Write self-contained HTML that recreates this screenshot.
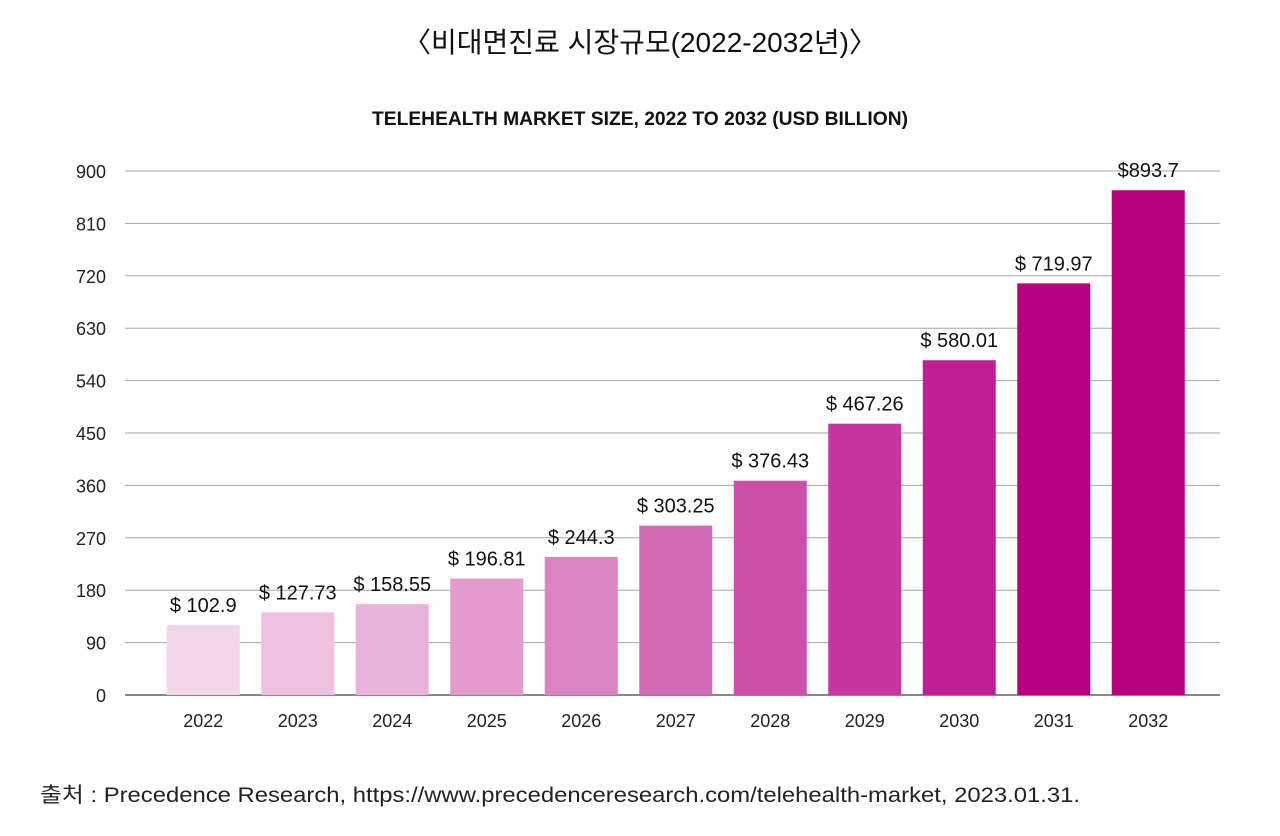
<!DOCTYPE html>
<html><head><meta charset="utf-8">
<style>
body{margin:0;background:#fff;width:1280px;height:836px;overflow:hidden;font-family:"Liberation Sans","Noto Sans CJK KR",sans-serif;}
svg{position:absolute;left:0;top:0}
</style></head>
<body>
<svg width="1280" height="836">
<text x="640" y="52" text-anchor="middle" font-size="28" fill="#111" font-family="Liberation Sans, Noto Sans CJK KR, sans-serif">〈비대면진료 시장규모(2022-2032년)〉</text>
<text x="640" y="125" text-anchor="middle" font-size="19" font-weight="bold" fill="#111" textLength="536" lengthAdjust="spacingAndGlyphs">TELEHEALTH MARKET SIZE, 2022 TO 2032 (USD BILLION)</text>
<g id="grid"></g><g id="bars"></g>
<text x="40" y="802" font-size="21" fill="#222" textLength="1040" lengthAdjust="spacingAndGlyphs" font-family="Liberation Sans, Noto Sans CJK KR, sans-serif">출처 : Precedence Research, https://www.precedenceresearch.com/telehealth-market, 2023.01.31.</text>
</svg>
<script>
const categories=["2022","2023","2024","2025","2026","2027","2028","2029","2030","2031","2032"];
const values=[120,142,156,200,237,291,368,466,575,707,867];
const valueLabels=["$ 102.9","$ 127.73","$ 158.55","$ 196.81","$ 244.3","$ 303.25","$ 376.43","$ 467.26","$ 580.01","$ 719.97","$893.7"];
const colors=["#f4d6ea","#efc0df","#e9b2d9","#e39bce","#dc83c2","#d46ab6","#cc4fa9","#c5369e","#bf1f92","#b9007f","#b7007c"];
const ticks=[0,90,180,270,360,450,540,630,720,810,900];
const NS="http://www.w3.org/2000/svg";
const y0=695,y1=171,vmax=900,left=125,right=1220,bandStart=156,band=94.5,bw=73;
const y=v=>y0-(v/vmax)*(y0-y1);
const xc=i=>bandStart+band*(i+0.5);
function mk(t,a,p){const e=document.createElementNS(NS,t);for(const k in a)e.setAttribute(k,a[k]);p.appendChild(e);return e;}
const grid=document.getElementById('grid'),bars=document.getElementById('bars');
ticks.forEach(t=>{
 const l=mk('line',{x1:left,x2:right,y1:y(t),y2:y(t),stroke:t===0?'#888':'#a6a6a6','stroke-width':t===0?2:1},grid);
 
 
 const tx=mk('text',{x:106,y:y(t)+7,'text-anchor':'end','font-size':18,fill:'#222'},grid);
 tx.textContent=t;
 
 
});
categories.forEach((c,i)=>{
 const r=mk('rect',{x:xc(i)-bw/2,y:y(values[i]),width:bw,height:y0-y(values[i]),fill:colors[i]},bars);
 
 
 const lb=mk('text',{x:xc(i),y:y(values[i])-13,'text-anchor':'middle','font-size':20,fill:'#111'},bars);
 lb.textContent=valueLabels[i];
 
 
 const xl=mk('text',{x:xc(i),y:727,'text-anchor':'middle','font-size':18,fill:'#222'},bars);
 xl.textContent=c;
 
 
});
</script>
</body></html>
